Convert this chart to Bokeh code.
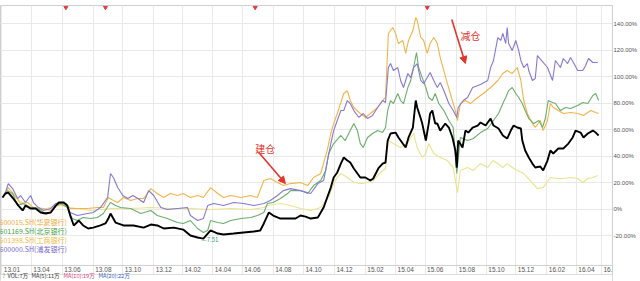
import numpy as np
from bokeh.plotting import figure
from bokeh.models import Range1d, FixedTicker, Label, Arrow, NormalHead, Span, BoxAnnotation
from bokeh.core.properties import value
from bokeh.embed import file_html
from bokeh.resources import INLINE

# ---- data: x = trading-day index since start of 2013, y = cumulative return (%) ----
black_x = [0,4,8,15,22,28,32,39,46,53,60,67,74,78,85,90,94,99,106,112,119,126,136,143,147,150,157,168,182,196,206,215,224,238,251,261,271,279,289,299,307,321,335,349,358,363,370,376,386,396,407,414,421,428,438,446,451,456,460,465,470,474,479,483,488,493,497,504,511,515,522,528,532,535,539,546,550,556,560,564,570,574,576,581,583,588,592,594,597,601,604,608,615,620,625,629,631,633,639,643,647,653,660,664,671,678,682,689,695,701,706,710,715,720,722,726,731,736,740,747,751,757,761,765,772,779,786,792,796,803,807,813,820,824,828]
black_y = [8.7,11.7,12.4,7.9,2.6,-1.1,2.6,0.4,0.4,-2.6,-3.4,-2.6,2.6,4.9,4.9,2.6,-4.9,-12.4,-8.7,-12.4,-14.7,-14,-12.4,-10.9,-7.2,-3.4,-10.2,-12.4,-12.4,-14,-11.7,-12.4,-14.7,-14,-15.5,-20,-21.5,-22.3,-16.2,-18.5,-19.2,-18.5,-17.7,-17,-16.2,-10.9,-2.6,-4.9,-7.2,-7.2,-7.2,-4.9,-5.7,-7.2,-6.4,1.1,8.7,16.2,23.8,27.6,34.3,38.9,36.6,35.1,30.6,26.8,23.8,23.8,21.5,23,30.6,34.3,35.1,51.7,57,57.7,54,49.4,46.4,54,61.5,81.9,76.6,68.3,64.5,51.7,64.5,72.1,74.3,64.5,64.5,59.2,64.5,61.5,54,44.2,31.3,51.7,46.4,59.2,57.7,61.5,63,65.3,63,68.3,63,60.8,55.5,53.2,59.2,63,61.5,60.8,51.7,44.2,38.9,34.3,31.3,32.1,29.1,36.6,44.2,41.9,45.7,45.7,49.4,54,59.2,57.7,54,57,59.2,57.7,55.5]

p600000_x = [0,4,8,14,21,25,32,39,43,50,57,67,74,81,88,94,104,118,126,136,146,150,154,160,167,174,181,188,196,203,210,220,229,243,257,261,271,279,285,293,307,321,335,349,363,372,382,390,400,414,428,438,446,456,460,465,470,474,479,483,488,495,501,507,514,521,528,532,536,539,543,549,553,557,563,567,571,576,581,585,590,594,599,604,608,613,620,626,631,633,640,646,653,664,674,678,682,688,692,695,699,701,703,708,713,717,720,724,729,731,736,740,743,757,764,768,775,779,785,789,793,799,806,810,814,820,827]
p600000_y = [8.7,12.4,19.2,15.4,7.9,10.2,4.9,10.2,4.9,1.1,-1.1,0.4,4.2,4.9,4.2,-2.6,-4.9,-3.4,-2.6,1.1,8.7,26.8,23.8,16.2,10.2,7.9,10.2,7.9,4.9,13.9,10.2,1.1,-0.4,0.4,1.1,-4.9,-8.7,-7.2,2.6,4.2,2.6,4.9,4.2,2.6,4.2,6.4,10.2,13.9,15.4,13.9,11.7,19.2,21.5,49.4,59.2,66.8,74.3,74.3,81.9,79.6,74.3,69.1,72.1,68.3,70.6,76.6,81.9,80.4,106.8,109.8,104.5,106.8,97,91.7,102.3,99.2,106.8,109.8,97,94.7,99.2,103,97,91.7,95.5,89.4,79.6,74.3,69.1,76.6,81.9,84.2,91.7,94,97,106.8,112.1,129.4,127.2,132.5,124.9,137,124.9,119.6,127.2,119.6,112.1,106.8,109.8,104.5,97,98.5,115.8,106.8,97,112.1,106.8,113.6,109.8,114.3,110.6,104.5,104.5,108.3,113.6,110.6,110.6]

p601169_x = [0,7,14,21,29,39,49,57,67,74,81,90,97,104,112,122,132,140,150,157,164,178,192,206,215,229,243,251,261,271,279,285,289,299,307,317,331,345,354,363,368,376,386,396,400,414,424,432,442,449,453,460,470,476,483,488,493,497,501,507,514,521,528,532,535,539,543,549,553,557,563,567,571,575,578,583,588,592,597,601,606,613,620,626,631,636,646,654,664,674,682,689,695,699,703,708,713,717,722,726,731,738,745,750,754,758,764,768,775,782,789,799,806,813,820,824,828]
p601169_y = [8.7,13.9,11.7,2.6,4.2,1.1,0.4,-2.6,-2.6,2.6,4.2,1.1,-7.2,-8.7,-6.4,-7.2,-6.4,-3.4,4.9,2.6,1.1,0.4,-3.4,-1.1,-4.9,-7.2,-10.2,-10.9,-8.7,-14.7,-17.7,-16.2,-8.7,-10.2,-10.9,-8.7,-7.2,-6.4,-4.9,-2.6,4.2,4.9,7.9,11.7,13.9,13.9,11.7,17.7,21.5,29.1,41.9,49.4,55.5,51.7,59.2,64.5,59.2,49.4,46.4,54,57,59.2,57.7,61.5,74.3,81.9,79.6,87.2,81.9,79.6,91.7,97,106.8,118.1,106.8,99.2,91.7,84.2,81.9,87.2,79.6,74.3,66.8,61.5,26.8,54,51.7,53.2,57.7,60.8,66.8,72.1,79.6,84.2,89.4,91.7,87.2,84.2,79.6,74.3,68.3,64.5,66.8,61.5,68.3,81.9,80.4,79.6,74.3,76.6,75.9,78.1,80.4,79.6,85.7,87.2,81.9]

p600015_x = [0,8,15,25,35,43,57,67,76,85,94,104,118,132,140,147,154,160,168,178,188,196,206,215,224,233,243,251,261,271,279,289,299,307,317,331,345,354,363,372,382,390,400,414,424,432,442,451,456,460,465,474,479,483,488,497,504,511,521,528,532,536,542,546,550,556,560,564,570,574,576,581,585,590,594,599,604,608,613,618,622,629,632,636,643,650,660,668,678,688,695,701,708,715,720,724,729,736,740,747,751,757,761,765,772,779,789,799,807,817,824,828]
p600015_y = [8.7,16.2,11.7,4.2,4.9,1.1,0.4,-1.1,2.6,4.2,0.4,0.4,0.4,1.1,1.1,8.7,6.4,4.9,8.7,6.4,7.9,7.9,15.4,11.7,8.7,11.7,10.2,11.7,8.7,10.2,8.7,16.2,11.7,8.7,10.2,8.7,10.2,8.7,21.5,23,20,17.7,19.2,20,17.7,23.8,26.8,44.2,57,64.5,72.1,87.2,89.4,81.9,76.6,72.1,69.1,72.1,76.6,81.9,84.2,132.5,137,132.5,124.9,127.2,117.4,127.2,134.7,144.5,142.3,129.4,127.2,117.4,124.9,129.4,124.9,114.3,104.5,94.7,87.2,74.3,66.8,79.6,81.9,79.6,84.2,87.2,91.7,97,102.3,104.5,102.3,106.8,97,81.9,72.1,64.5,61.5,66.8,59.2,66.8,79.6,76.6,74.3,72.1,72.8,72.1,70.6,74.3,72.8,72.1]

p601398_x = [0,8,18,32,53,74,88,94,122,150,178,206,233,261,289,317,345,363,368,386,400,414,428,442,446,453,460,465,470,479,488,497,507,515,525,532,536,543,553,563,571,576,583,588,592,599,608,618,626,632,636,646,654,664,674,681,688,695,701,708,715,724,733,743,751,761,771,779,789,799,806,813,820,827]
p601398_y = [8.7,13.9,8.7,2.6,-1.1,2.6,2.6,1.1,-1.1,0.4,0.4,1.1,0.4,0.4,-0.4,0.4,-0.4,1.1,2.6,4.2,2.6,0.4,-1.1,1.1,4.2,8.7,19.2,23.8,26.8,23.8,20,19.2,20,21.5,27.6,30.6,51.7,49.4,46.4,50.2,57,46.4,38.9,41.9,49.4,41.9,38.9,36.6,31.3,12.4,29.1,31.3,29.1,34.3,31.3,36.6,34.3,31.3,34.3,31.3,29.1,26.8,21.5,15.4,16.2,23.8,23,23,23.8,23,20,23,23.8,25.3]

legend_names = ["600015.SH(华夏银行)", "601169.SH(北京银行)", "601398.SH(工商银行)", "600000.SH(浦发银行)"]

xtick_idx = [-1, 40, 83, 126, 167, 210, 250, 292, 333, 376, 418, 461, 504, 546, 587, 631, 672, 713, 756, 797, 832]
xtick_labels = ["13.01", "13.04", "13.06", "13.08", "13.10", "13.12", "14.02", "14.04", "14.06", "14.08",
                "14.10", "14.12", "15.02", "15.04", "15.06", "15.08", "15.10", "15.12", "16.02", "16.04", "16.06"]
ytick_vals = [-20, 0, 20, 40, 60, 80, 100, 120, 140]
ytick_labels = ["-20.00%", "0%", "20.00%", "40.00%", "60.00%", "80.00%", "100.00%", "120.00%", "140.00%"]

# event markers along the top edge (trading-day index)
event_idx = [88, 143, 351, 590]

# annotations: text, text anchor, arrow tail, arrow head (index, %)
note_text = ["建仓", "减仓"]
note_tx = [351, 636]
note_ty = [51.0, 136.5]
arrow_x0 = [356, 624]
arrow_y0 = [42.6, 143.0]
arrow_x1 = [393, 643]
arrow_y1 = [19.2, 109.8]
min_price_text = "7.51"

vol_parts = ["?", "VOL:7万", "MA(5):11万", "MA(10):19万", "MA(20):22万"]

# ---- layout constants (value units of the y scale) ----
Y_PLOT_BOTTOM = -42.6     # bottom of the chart area
Y_TICKLABEL = -45.6       # date label row
Y_SEPARATOR = -49.4       # line under the date labels
Y_INFO = -50.9            # volume info row
Y_MIN, Y_MAX = -54.7, 153.6

# ---- styling ----
C_ORANGE = "#f2b44a"
C_PALE = "#ebe38e"
C_GREEN = "#6aae6a"
C_PURPLE = "#8678cf"
C_BLACK = "#000000"
LEG_COLORS = ["#f3a531", "#3f9d3f", "#f0bb3a", "#7466cc"]
VOL_COLORS = ["#777777", "#333333", "#333333", "#e0457b", "#3563c4"]
GRID = "#e9e9e9"
FONT = "Noto Sans CJK SC"

p = figure(width=640, height=281, x_range=Range1d(-2.8, 847.3), y_range=Range1d(Y_MIN, Y_MAX),
           y_axis_location="right", x_axis_location=None, toolbar_location=None, output_backend="svg",
           min_border_left=0, min_border_right=28, min_border_top=5, min_border_bottom=0,
           background_fill_color="white", border_fill_color="white",
           outline_line_color="#cfcfcf")

p.yaxis.ticker = FixedTicker(ticks=ytick_vals)
p.yaxis.major_label_overrides = {t: l for t, l in zip(ytick_vals, ytick_labels)}
p.yaxis.major_label_text_font = "Liberation Sans"
p.yaxis.major_label_text_font_size = "6px"
p.yaxis.major_label_text_color = "#555555"
p.yaxis.major_tick_out = 0
p.yaxis.major_tick_in = 0
p.yaxis.minor_tick_line_color = None
p.yaxis.major_label_standoff = 1
p.yaxis.axis_line_color = "#cfcfcf"

p.xgrid.ticker = FixedTicker(ticks=xtick_idx)
p.xgrid.grid_line_color = GRID
p.ygrid.ticker = FixedTicker(ticks=ytick_vals)
p.ygrid.grid_line_color = GRID

# series
p.line(p601398_x, p601398_y, line_color=C_PALE, line_width=1.1)
p.line(p600015_x, p600015_y, line_color=C_ORANGE, line_width=1.1)
p.line(p601169_x, p601169_y, line_color=C_GREEN, line_width=1.1)
p.line(p600000_x, p600000_y, line_color=C_PURPLE, line_width=1.1)
p.line(black_x, black_y, line_color=C_BLACK, line_width=1.9)

# event markers at the top edge
top = p.y_range.end - 1.5
p.scatter(event_idx, [top] * len(event_idx), marker="inverted_triangle", size=4,
          fill_color="#e23b3b", line_color="#e23b3b")

# min price marker of the black series
imin = int(np.argmin(black_y))
p.add_layout(Label(x=black_x[imin], y=black_y[imin], text="—" + min_price_text,
                   text_font=FONT, text_font_size="6px", text_color="#2f9d72",
                   text_baseline="middle", x_offset=-2, y_offset=-1))

# legend texts at left
leg_y = [-9.5, -16.5, -23.5, -30.5]
for name, col, yy in zip(legend_names, LEG_COLORS, leg_y):
    p.add_layout(Label(x=p.x_range.start, y=yy, text=name, text_font=FONT,
                       text_font_size="7px", text_color=col, text_baseline="middle", x_offset=-1))

# annotations
for t, tx, ty, x0, y0, x1, y1 in zip(note_text, note_tx, note_ty, arrow_x0, arrow_y0, arrow_x1, arrow_y1):
    p.add_layout(Label(x=tx, y=ty, text=t, text_font=FONT, text_font_size="10px",
                       text_color="#e2352d", text_baseline="top"))
    p.add_layout(Arrow(x_start=x0, y_start=y0, x_end=x1, y_end=y1, line_color="#e2352d",
                       line_width=1.6,
                       end=NormalHead(size=7, fill_color="#e2352d", line_color="#e2352d")))

# ---- date axis row (drawn inside the frame) ----
p.add_layout(Span(location=Y_PLOT_BOTTOM, dimension="width", line_color="#cfcfcf", line_width=1))
p.text(x=xtick_idx, y=[Y_TICKLABEL] * len(xtick_idx), text=xtick_labels, text_color="#555555",
       text_font=value("Liberation Sans"), text_font_size="6.5px", text_baseline="middle",
       text_align="left", x_offset=2)

# ---- volume info row ----
p.add_layout(BoxAnnotation(top=Y_SEPARATOR, fill_color="white", fill_alpha=1.0, line_color=None))
p.add_layout(Span(location=Y_SEPARATOR, dimension="width", line_color="#dddddd", line_width=1))
vol_px = [2, 7, 31, 63, 98]
x0, x1 = p.x_range.start, p.x_range.end
vol_x = [x0 + v * (x1 - x0) / 612 for v in vol_px]
for t, c, xx in zip(vol_parts, VOL_COLORS, vol_x):
    p.add_layout(Label(x=xx, y=Y_INFO, text=t, text_font=FONT, text_font_size="5.6px",
                       text_color=c, text_baseline="middle"))

open("out.html", "w").write(file_html(p, INLINE))
